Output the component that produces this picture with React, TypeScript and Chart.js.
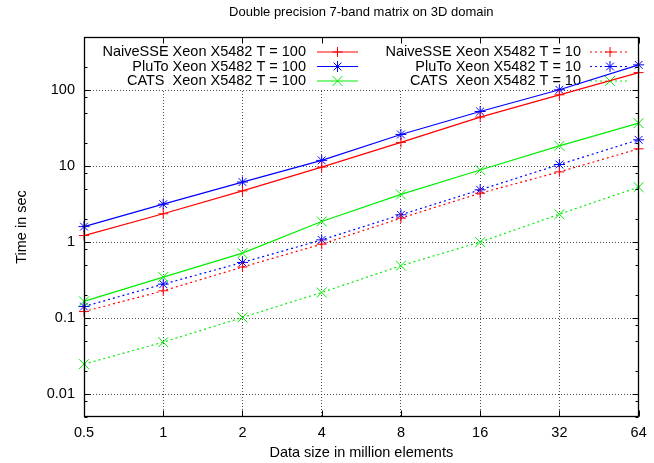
import React, { useEffect, useRef } from 'react';
import { Chart, registerables } from 'chart.js';

Chart.register(...registerables);

const FONT = '"Liberation Sans", Arial, Helvetica, sans-serif';

const sizes = ['0.5', '1', '2', '4', '8', '16', '32', '64'];

const naiveT100 = [1.22, 2.36, 4.73, 9.7, 20.5, 44.2, 86.7, 170];
const plutoT100 = [1.6, 3.16, 6.17, 11.9, 26.1, 52.3, 101, 215];
const catsT100 = [0.166, 0.347, 0.716, 1.87, 4.24, 8.9, 18.5, 36.8];
const naiveT10 = [0.122, 0.229, 0.47, 0.94, 2.07, 4.4, 8.4, 16.9];
const plutoT10 = [0.142, 0.28, 0.54, 1.07, 2.29, 4.88, 10.5, 22.2];
const catsT10 = [0.0248, 0.0483, 0.102, 0.217, 0.49, 1.0, 2.33, 5.3];

const yMajorTicks = [0.01, 0.1, 1, 10, 100];
const yMinorTicks = [0.005, 0.008, 0.02, 0.05, 0.08, 0.2, 0.5, 0.8, 2, 5, 8, 20, 50, 80, 200, 500];

const RED = '#ff0000';
const BLUE = '#0000ff';
const GREEN = '#00ee00';
const DOTS = [2, 3];

type Series = { label: string; data: number[]; color: string; marker: 'cross' | 'star' | 'crossRot'; dashed: boolean; col: number; row: number };

const series: Series[] = [
  { label: 'NaiveSSE Xeon X5482 T = 100', data: naiveT100, color: RED, marker: 'cross', dashed: false, col: 0, row: 0 },
  { label: 'PluTo Xeon X5482 T = 100', data: plutoT100, color: BLUE, marker: 'star', dashed: false, col: 0, row: 1 },
  { label: 'CATS  Xeon X5482 T = 100', data: catsT100, color: GREEN, marker: 'crossRot', dashed: false, col: 0, row: 2 },
  { label: 'NaiveSSE Xeon X5482 T = 10', data: naiveT10, color: RED, marker: 'cross', dashed: true, col: 1, row: 0 },
  { label: 'PluTo Xeon X5482 T = 10', data: plutoT10, color: BLUE, marker: 'star', dashed: true, col: 1, row: 1 },
  { label: 'CATS  Xeon X5482 T = 10', data: catsT10, color: GREEN, marker: 'crossRot', dashed: true, col: 1, row: 2 },
];

const markerRadius = { cross: 5, star: 5.5, crossRot: 7 };

function drawMarker(ctx: CanvasRenderingContext2D, style: string, x: number, y: number, r: number) {
  ctx.beginPath();
  if (style === 'cross' || style === 'star') {
    ctx.moveTo(x - r, y); ctx.lineTo(x + r, y);
    ctx.moveTo(x, y - r); ctx.lineTo(x, y + r);
  }
  if (style === 'crossRot' || style === 'star') {
    const d = r * Math.SQRT1_2;
    ctx.moveTo(x - d, y - d); ctx.lineTo(x + d, y + d);
    ctx.moveTo(x - d, y + d); ctx.lineTo(x + d, y - d);
  }
  ctx.stroke();
}

const gnuplotPlugin = {
  id: 'gnuplotFrame',
  beforeDatasetsDraw(chart: any) {
    const { ctx, chartArea: a } = chart;
    ctx.save();
    // opaque key area
    ctx.fillStyle = '#ffffff';
    ctx.fillRect(a.left + 1, a.top + 1, a.right - a.left - 2, 51);
    // key
    const colText = [306, 581];
    const colLine = [[317, 358], [590, 630]];
    const rowY = [52, 66.5, 81];
    ctx.font = `14.5px ${FONT}`;
    ctx.textAlign = 'right';
    ctx.textBaseline = 'middle';
    series.forEach((s) => {
      const y = rowY[s.row];
      ctx.fillStyle = '#000';
      ctx.fillText(s.label, colText[s.col], y);
      const [x1, x2] = colLine[s.col];
      ctx.strokeStyle = s.color;
      ctx.lineWidth = 1.2;
      ctx.setLineDash(s.dashed ? DOTS : []);
      ctx.beginPath();
      ctx.moveTo(x1, y);
      ctx.lineTo(x2, y);
      ctx.stroke();
      ctx.setLineDash([]);
      ctx.lineWidth = 1;
      drawMarker(ctx, s.marker, (x1 + x2) / 2, y, markerRadius[s.marker]);
    });
    ctx.restore();
  },
  afterDraw(chart: any) {
    const { ctx, chartArea: a, scales } = chart;
    const xs = scales.x;
    const ys = scales.y;
    ctx.save();
    ctx.strokeStyle = '#000';
    ctx.lineWidth = 1;
    ctx.setLineDash([]);
    const L = Math.round(a.left) + 0.5;
    const R = Math.round(a.right) - 0.5;
    const T = Math.round(a.top) + 0.5;
    const B = Math.round(a.bottom) - 0.5;
    ctx.beginPath();
    for (let i = 0; i < sizes.length; i++) {
      const px = Math.round(xs.getPixelForValue(i)) + 0.5;
      ctx.moveTo(px, B); ctx.lineTo(px, B - 6);
      ctx.moveTo(px, T); ctx.lineTo(px, T + 6);
    }
    yMajorTicks.forEach((v) => {
      const py = Math.round(ys.getPixelForValue(v)) + 0.5;
      ctx.moveTo(L, py); ctx.lineTo(L + 6, py);
      ctx.moveTo(R, py); ctx.lineTo(R - 6, py);
    });
    yMinorTicks.forEach((v) => {
      const py = Math.round(ys.getPixelForValue(v)) + 0.5;
      ctx.moveTo(L, py); ctx.lineTo(L + 3, py);
      ctx.moveTo(R, py); ctx.lineTo(R - 3, py);
    });
    ctx.stroke();
    ctx.lineWidth = 1.3;
    ctx.strokeRect(L, T, R - L, B - T);
    ctx.restore();
  },
};

export default function App() {
  const canvasRef = useRef<HTMLCanvasElement | null>(null);

  useEffect(() => {
    const canvas = canvasRef.current;
    if (!canvas) return;
    Chart.defaults.font.family = FONT;
    const chart = new Chart(canvas, {
      type: 'line',
      data: {
        labels: sizes,
        datasets: series.map((s) => ({
          label: s.label,
          data: s.data,
          borderColor: s.color,
          backgroundColor: s.color,
          borderWidth: 1.2,
          borderDash: s.dashed ? DOTS : [],
          pointStyle: s.marker,
          pointRadius: markerRadius[s.marker],
          pointBorderWidth: 1,
          pointBorderColor: s.color,
          pointBackgroundColor: s.color,
          fill: false,
          tension: 0,
          clip: false as any,
        })),
      },
      options: {
        animation: false,
        responsive: false,
        devicePixelRatio: 1,
        layout: { padding: { left: 0, right: 10, top: 0, bottom: 0 } },
        plugins: {
          legend: { display: false },
          tooltip: { enabled: false },
          title: {
            display: true,
            fullSize: false,
            text: 'Double precision 7-band matrix on 3D domain',
            color: '#000',
            font: { size: 13, weight: 'normal', family: FONT },
            padding: { top: 4.2, bottom: 17.2 },
          },
        },
        scales: {
          x: {
            type: 'category',
            offset: false,
            afterFit: (s: any) => { s.height = 46; },
            ticks: { autoSkip: false, maxRotation: 0, padding: 7.3, color: '#000', font: { size: 14.5, family: FONT } },
            grid: { drawTicks: false, color: 'rgba(0,0,0,0.7)', lineWidth: 1 },
            border: { display: false, dash: [1, 2] },
            title: {
              display: true,
              text: 'Data size in million elements',
              color: '#000',
              font: { size: 14.5, family: FONT },
              padding: { top: 0, bottom: 1.3 },
            },
          },
          y: {
            type: 'logarithmic',
            min: 0.005,
            max: 500,
            afterBuildTicks: (s: any) => {
              s.ticks = [...yMajorTicks, ...yMinorTicks]
                .sort((p, q) => p - q)
                .map((v) => ({ value: v, major: false }));
            },
            afterFit: (s: any) => { s.width = 84; },
            ticks: {
              autoSkip: false,
              padding: 9,
              color: '#000',
              font: { size: 14.5, family: FONT },
              callback: (v: any) => (yMajorTicks.includes(Number(v)) ? String(v) : ''),
            },
            grid: {
              drawTicks: false,
              lineWidth: 1,
              color: (c: any) => (c.tick && yMajorTicks.includes(c.tick.value) ? 'rgba(0,0,0,0.7)' : 'rgba(0,0,0,0)'),
            },
            border: { display: false, dash: [1, 2] },
            title: {
              display: true,
              text: 'Time in sec',
              color: '#000',
              font: { size: 14.5, family: FONT },
              padding: { top: 13.3, bottom: 0 },
            },
          },
        },
      } as any,
      plugins: [gnuplotPlugin],
    });
    return () => chart.destroy();
  }, []);

  return (
    <canvas
      ref={canvasRef}
      width={654}
      height={463}
      style={{ position: 'fixed', left: 0, top: 0, width: 654, height: 463, background: '#fff' }}
    />
  );
}
